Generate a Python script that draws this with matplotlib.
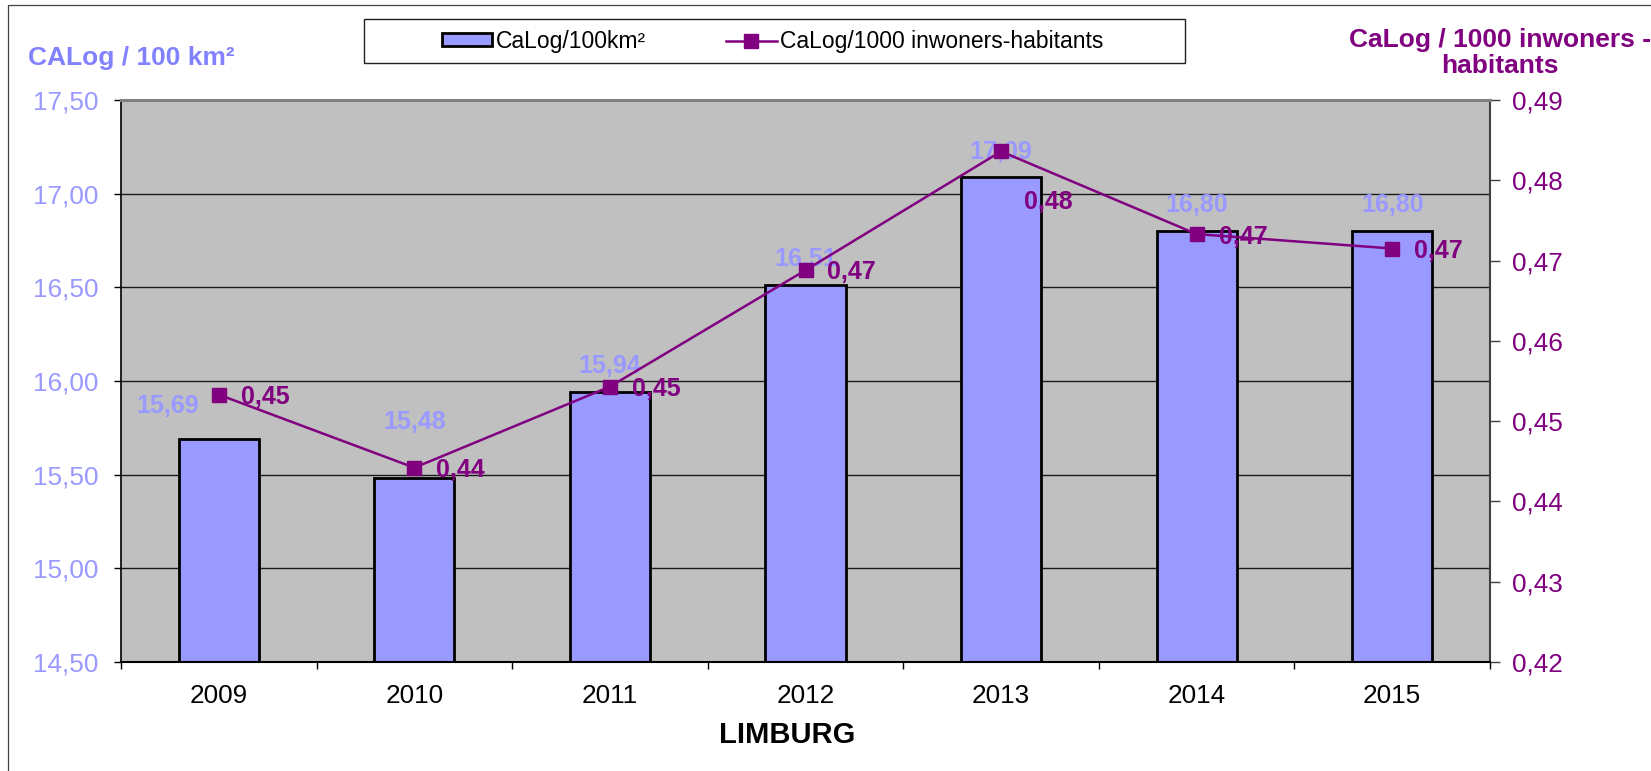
import matplotlib
matplotlib.use('Agg')
import matplotlib.pyplot as plt
from matplotlib.patches import Rectangle, Patch
from matplotlib.lines import Line2D
from matplotlib.ticker import FixedLocator, FuncFormatter
import numpy as np

# ---- data ----
years = ['2009', '2010', '2011', '2012', '2013', '2014', '2015']
calog_per_100km2 = [15.69, 15.48, 15.94, 16.51, 17.09, 16.80, 16.80]
calog_per_1000_inh = [0.4533, 0.4442, 0.4543, 0.4688, 0.4836, 0.4733, 0.4715]
left_ticks = [14.50, 15.00, 15.50, 16.00, 16.50, 17.00, 17.50]
right_ticks = [0.42, 0.43, 0.44, 0.45, 0.46, 0.47, 0.48, 0.49]
bar_name = 'CaLog/100km²'
line_name = 'CaLog/1000 inwoners-habitants'
left_title = 'CALog / 100 km²'
right_title = 'CaLog / 1000 inwoners -\nhabitants'
x_title = 'LIMBURG'

# label offsets (pixels) - layout only
bar_label_offsets = [(-51, 33), (0, 56), (0, 26), (0, 26), (0, 25), (0, 26), (0, 26)]
line_label_offsets = [(22, -2), (22, -2), (22, -2), (22, -2), (23, -51), (22, -3), (22, -2)]

plt.rcParams['font.family'] = ['Liberation Sans', 'DejaVu Sans']

BAR_C = '#9999FF'
TITLE_L = '#8282FF'
PURPLE = '#800080'

W, H = 1651, 771
fig = plt.figure(figsize=(W / 100, H / 100), dpi=100)
fig.patch.set_facecolor('white')

def fmt(v, p=None):
    return f"{v:.2f}".replace('.', ',')

L, R, T, B = 121, 1490, 100, 662
ax = fig.add_axes([L / W, (H - B) / H, (R - L) / W, (B - T) / H])
ax.set_facecolor('#C0C0C0')
x = np.arange(len(years))

ax.bar(x, calog_per_100km2, width=0.41, color=BAR_C, edgecolor='black', linewidth=2, zorder=2)
ax.set_xlim(-0.5, len(years) - 0.5)
ax.set_ylim(left_ticks[0], left_ticks[-1])
ax.yaxis.set_major_locator(FixedLocator(left_ticks))
ax.yaxis.set_major_formatter(FuncFormatter(fmt))
ax.yaxis.grid(True, color='#1a1a1a', linewidth=1.0)
ax.set_axisbelow(True)
ax.tick_params(axis='y', direction='out', length=5, width=1, color='black',
               labelsize=18.8, labelcolor=BAR_C, pad=11)
ax.set_xticks(x)
ax.set_xticklabels(years)
ax.set_xticks(np.arange(-0.5, len(years), 1), minor=True)
ax.tick_params(axis='x', which='major', length=0, labelsize=18.8, labelcolor='black', pad=16)
ax.tick_params(axis='x', which='minor', length=5, width=1, color='black', direction='out')
for s in ax.spines.values():
    s.set_visible(False)

for i, v in enumerate(calog_per_100km2):
    dx, dy = bar_label_offsets[i]
    ax.annotate(fmt(v), xy=(x[i], v), xytext=(dx, dy), textcoords='offset pixels',
                ha='center', va='center', fontsize=18, fontweight='bold', color=BAR_C, zorder=3)

ax.set_xlabel(x_title, fontsize=21, fontweight='bold', color='black')
ax.xaxis.label.set_va('center')
ax.xaxis.set_label_coords((787 - L) / (R - L), (B - 735) / (B - T))

ax2 = ax.twinx()
ax2.set_position(ax.get_position())
ax2.plot(x, calog_per_1000_inh, color=PURPLE, linewidth=1.8, marker='s', markersize=10.5,
         markerfacecolor=PURPLE, markeredgecolor=PURPLE, zorder=5)
ax2.set_ylim(right_ticks[0], right_ticks[-1])
ax2.yaxis.set_major_locator(FixedLocator(right_ticks))
ax2.yaxis.set_major_formatter(FuncFormatter(fmt))
ax2.tick_params(axis='y', direction='out', length=7, width=1, color='#404040',
                labelsize=18.8, labelcolor=PURPLE, pad=9)
ax2.spines['top'].set_color('#808080')
ax2.spines['top'].set_linewidth(2.2)
ax2.spines['right'].set_color('#404040')
ax2.spines['right'].set_linewidth(1.5)
ax2.spines['left'].set_color('black')
ax2.spines['left'].set_linewidth(1.2)
ax2.spines['bottom'].set_color('black')
ax2.spines['bottom'].set_linewidth(1.5)

for i, v in enumerate(calog_per_1000_inh):
    dx, dy = line_label_offsets[i]
    ax2.annotate(fmt(v), xy=(x[i], v), xytext=(dx, dy), textcoords='offset pixels',
                 ha='left', va='center', fontsize=18, fontweight='bold', color=PURPLE, zorder=6)

# titles
fig.text(28 / W, (H - 65) / H, left_title, ha='left', va='baseline', fontsize=19,
         fontweight='bold', color=TITLE_L)
fig.text(1500 / W, (H - 73) / H, right_title, ha='center', va='baseline', multialignment='center',
         fontsize=19, fontweight='bold', color=PURPLE, linespacing=1.1)

# legend
handles = [Patch(facecolor=BAR_C, edgecolor='black', linewidth=2),
           Line2D([], [], color=PURPLE, linewidth=1.8, marker='s', markersize=10.5)]
fig.legend(handles, [bar_name, line_name], loc='center left',
           bbox_to_anchor=(442 / W, (H - 41.5) / H), ncol=2, frameon=False, fontsize=16.5,
           handlelength=2.2, handleheight=0.5, handletextpad=0.15, columnspacing=3.5,
           borderpad=0, borderaxespad=0)
fig.add_artist(Rectangle((364 / W, (H - 63.3) / H), (1185 - 364) / W, 44 / H,
                         transform=fig.transFigure, fill=False, edgecolor='#202020', linewidth=1))

# outer chart border
fig.add_artist(Rectangle((8 / W, -0.1), 1.2, (H - 5.5) / H + 0.1,
                         transform=fig.transFigure, fill=False, edgecolor='#404040', linewidth=0.9))

fig.savefig('out.png', dpi=100)
